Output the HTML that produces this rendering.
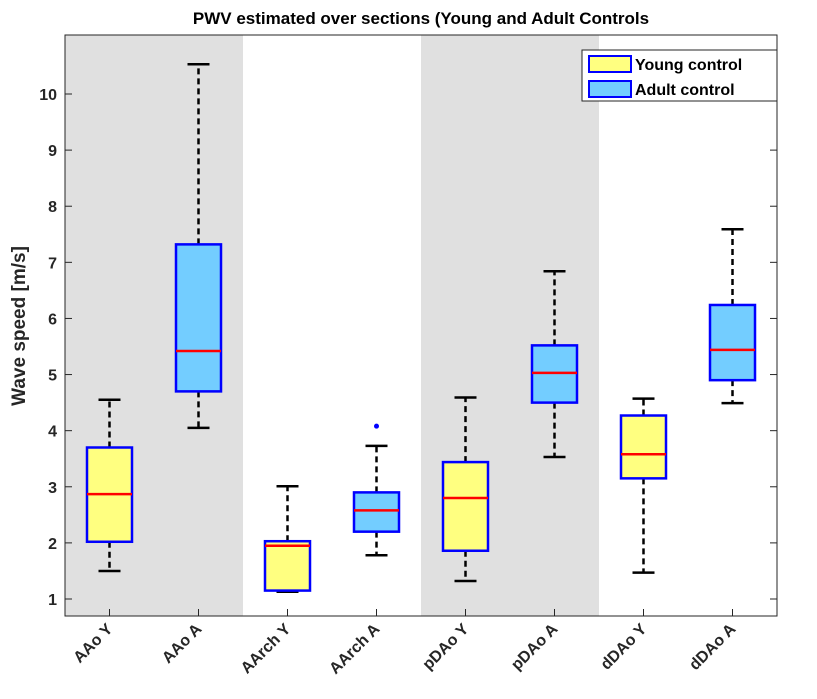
<!DOCTYPE html>
<html><head><meta charset="utf-8"><style>
body{margin:0;background:#fff;}
svg text{font-family:"Liberation Sans",Arial,sans-serif;}
</style></head><body>
<svg id="chart" width="817" height="694" xmlns="http://www.w3.org/2000/svg"></svg>
<script>
const categories=["AAo Y","AAo A","AArch Y","AArch A","pDAo Y","pDAo A","dDAo Y","dDAo A"];
const groups=["young","adult","young","adult","young","adult","young","adult"];
const whiskerLow=[1.5,4.05,1.13,1.78,1.32,3.53,1.47,4.49];
const q1=[2.02,4.7,1.15,2.2,1.86,4.5,3.15,4.9];
const medians=[2.87,5.42,1.95,2.58,2.8,5.03,3.58,5.44];
const q3=[3.7,7.32,2.03,2.9,3.44,5.52,4.27,6.24];
const whiskerHigh=[4.55,10.53,3.01,3.73,4.59,6.84,4.57,7.59];
const outliers=[[],[],[],[4.08],[],[],[],[]];
const yTicks=[1,2,3,4,5,6,7,8,9,10];

const NS="http://www.w3.org/2000/svg";
const svg=document.getElementById('chart');
const L=65,R=777,T=35,B=616;
const step=(R-L)/categories.length;
const xs=i=>L+step*(i+0.5);
const ys=v=>599-(v-1)*(599-94)/9;
function mk(tag,attrs,parent){const e=document.createElementNS(NS,tag);for(const k in attrs)e.setAttribute(k,attrs[k]);(parent||svg).appendChild(e);return e;}

// bands
[0,2].forEach((p,j)=>{const i=p*2;
 const r=mk('rect',{x:L+step*i,y:T,width:step*2,height:B-T,fill:'#e0e0e0'});
 
 
});
// axes box
const ax=mk('rect',{x:L,y:T,width:R-L,height:B-T,fill:'none',stroke:'#262626','stroke-width':1});


// y ticks
yTicks.forEach(v=>{const y=ys(v);
 mk('line',{x1:L,x2:L+7,y1:y,y2:y,stroke:'#262626'});
 mk('line',{x1:R,x2:R-7,y1:y,y2:y,stroke:'#262626'});
 const t=mk('text',{x:L-8,y:y+6,'text-anchor':'end','font-size':16,'font-weight':'bold',fill:'#262626'});
 t.textContent=v;
 
 
});
// boxes
categories.forEach((c,i)=>{
 const x=xs(i),hw=22.5;
 const g=mk('g',{});
 
 
 mk('line',{x1:x,x2:x,y1:ys(q3[i]),y2:ys(whiskerHigh[i]),stroke:'#000','stroke-width':2.5,'stroke-dasharray':'6,4'},g);
 mk('line',{x1:x,x2:x,y1:ys(q1[i]),y2:ys(whiskerLow[i]),stroke:'#000','stroke-width':2.5,'stroke-dasharray':'6,4'},g);
 mk('line',{x1:x-11,x2:x+11,y1:ys(whiskerHigh[i]),y2:ys(whiskerHigh[i]),stroke:'#000','stroke-width':2.5},g);
 mk('line',{x1:x-11,x2:x+11,y1:ys(whiskerLow[i]),y2:ys(whiskerLow[i]),stroke:'#000','stroke-width':2.5},g);
 mk('rect',{x:x-hw,y:ys(q3[i]),width:hw*2,height:ys(q1[i])-ys(q3[i]),fill:groups[i]==='young'?'#ffff80':'#73cdff',stroke:'#0000ff','stroke-width':2.5},g);
 mk('line',{x1:x-hw,x2:x+hw,y1:ys(medians[i]),y2:ys(medians[i]),stroke:'#ff0000','stroke-width':2.5},g);
 outliers[i].forEach(o=>mk('circle',{cx:x,cy:ys(o),r:2.5,fill:'#0000ff'},g));
 mk('line',{x1:x,x2:x,y1:B,y2:B-7,stroke:'#262626'});
 const t=mk('text',{x:0,y:0,'text-anchor':'end','font-size':16,'font-weight':'bold',fill:'#262626',transform:`translate(${x+4},${B+14}) rotate(-45)`});
 t.textContent=c;
 
 
});
// title
const ti=mk('text',{x:421,y:24,'text-anchor':'middle','font-size':17,'font-weight':'bold',fill:'#000'});
ti.textContent='PWV estimated over sections (Young and Adult Controls';


const yl=mk('text',{x:0,y:0,'text-anchor':'middle','font-size':19,'font-weight':'bold',fill:'#262626',transform:'translate(25,326) rotate(-90)'});
yl.textContent='Wave speed [m/s]';


// legend
const lg=mk('g',{});


mk('rect',{x:582,y:50,width:195,height:51,fill:'#fff',stroke:'#262626'},lg);
[['Young control','#ffff80',64],['Adult control','#73cdff',89]].forEach(([n,col,y])=>{
 mk('rect',{x:589,y:y-8,width:42,height:16,fill:col,stroke:'#0000ff','stroke-width':2},lg);
 const t=mk('text',{x:635,y:y+6,'font-size':16,'font-weight':'bold',fill:'#000'},lg);
 t.textContent=n;
 
 
});
</script>
</body></html>
